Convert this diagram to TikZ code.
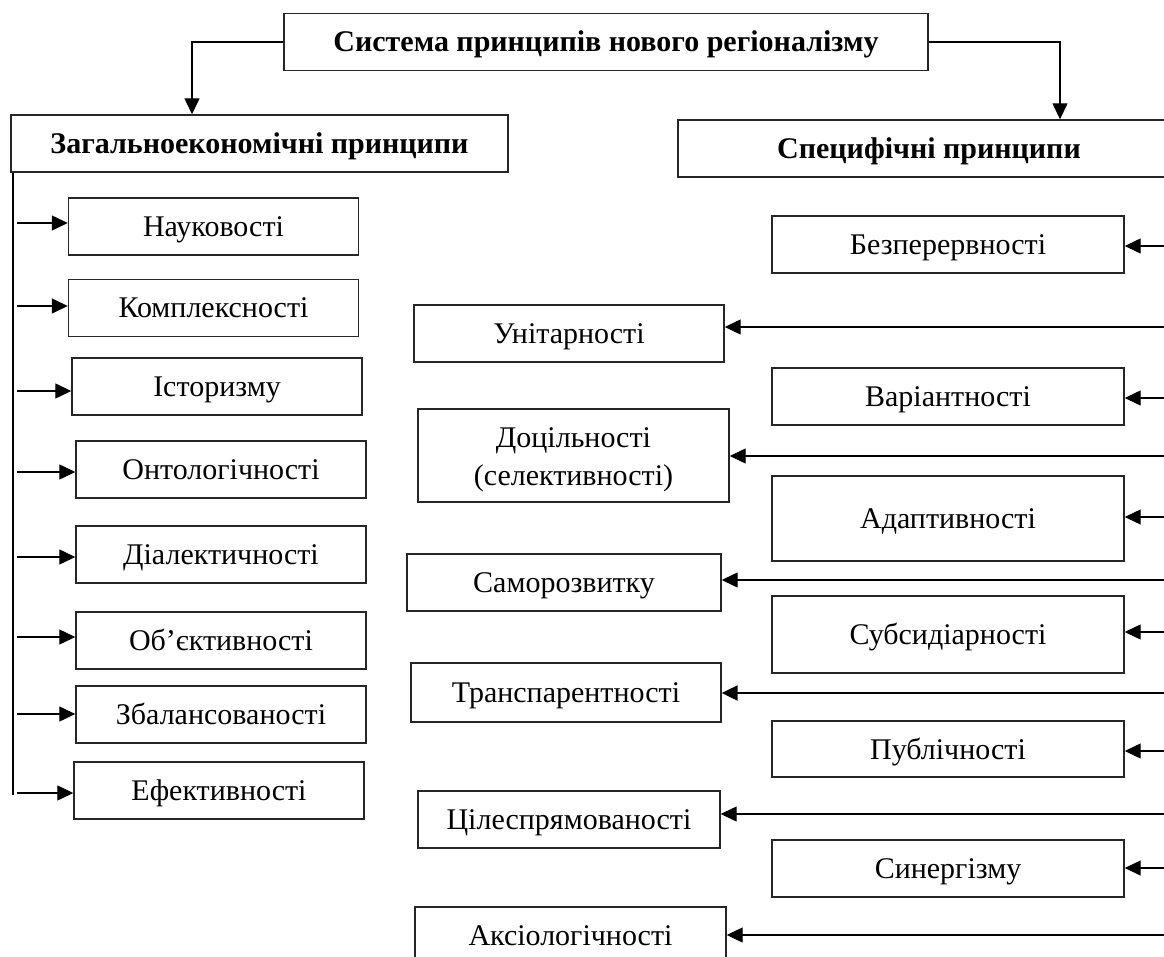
\documentclass[tikz,border=0pt]{standalone}
\usepackage{fontspec}
\setmainfont{Liberation Serif}
\usetikzlibrary{arrows.meta}

\begin{document}
\begin{tikzpicture}[x=1pt,y=-1pt,
  box/.style={draw=black!85, line width=1.4pt, inner sep=0pt, align=center,
    text height=20pt, text depth=0pt, font=\fontsize{30}{38}\selectfont},
  headbox/.style={box, minimum height=57pt, font=\fontsize{30}{38}\selectfont\bfseries},
  genbox/.style={box, minimum width=290pt, minimum height=57pt},
  specbox/.style={box, minimum width=352pt},
  arr/.style={line width=1.3pt, -{Triangle[length=16pt,width=15pt]}},
  spine/.style={line width=1.3pt}
]
\useasboundingbox (0,0) rectangle (1164,957);
\clip (0,0) rectangle (1164,957);

% ---- Top box and the two headers ----
\node[headbox, minimum width=644pt] (sys) at (606,42) {Система принципів нового регіоналізму};
\node[headbox, minimum width=497pt] (genhead) at (259.5,143.5) {Загальноекономічні принципи};
\node[headbox, minimum width=502pt] (spechead) at (929,148.5) {Специфічні принципи};

\coordinate (lturn) at (192,42);
\coordinate (rturn) at (1060,42);
\draw[arr] (sys.west) -- (lturn) -- (lturn |- genhead.north);
\draw[arr] (sys.east) -- (rturn) -- (rturn |- spechead.north);

% ---- General principles (left column) ----
\coordinate (spinebot) at (13,795);
\draw[spine] (spinebot |- genhead.south) -- (spinebot);
\foreach \txt/\cx/\cy/\ay [count=\i] in {
  Науковості/213.5/226.5/223,
  Комплексності/213.5/308/306,
  Історизму/217/386.5/391,
  Онтологічності/221/469.5/472,
  Діалектичності/221/554.5/557,
  Об’єктивності/221/640.5/637,
  Збалансованості/221/714.5/714,
  Ефективності/219/790.5/793} {
  \node[genbox] (gen\i) at (\cx,\cy) {\txt};
  \coordinate (genin\i) at (17,\ay);
  \draw[arr] (genin\i) -- (genin\i -| gen\i.west);
}

% ---- Specific principles (right column) ----
\foreach \txt/\cy/\h/\ay [count=\i] in {
  Безперервності/244.5/57/246,
  Варіантності/396.5/57/398,
  Адаптивності/518.5/85/517,
  Субсидіарності/634.5/77/632,
  Публічності/749/56/751,
  Синергізму/868.5/57/868} {
  \node[specbox, minimum height=\h pt] (spec\i) at (948,\cy) {\txt};
  \coordinate (specin\i) at (1164,\ay);
  \draw[arr] (specin\i) -- (specin\i -| spec\i.east);
}

% ---- Specific principles (middle column) ----
\foreach \txt/\cx/\cy/\w/\h/\th/\ay/\lw [count=\i] in {
  Унітарності/569/333.5/310/57/20/327/1.3,
  {Доцільності\\(селективності)}/573.5/455.5/311/93/59/456/1.3,
  Саморозвитку/564/582.5/314/57/20/580/1.3,
  Транспарентності/566/692.5/310/59/20/693/2.2,
  Цілеспрямованості/569/819.5/302/57/20/814/1.3,
  Аксіологічності/570.5/935.5/311/57/20/935/1.3} {
  \node[box, minimum width=\w pt, minimum height=\h pt, text height=\th pt] (mid\i) at (\cx,\cy) {\txt};
  \coordinate (midin\i) at (1164,\ay);
  \draw[arr, line width=\lw pt] (midin\i) -- (midin\i -| mid\i.east);
}

\end{tikzpicture}
\end{document}
